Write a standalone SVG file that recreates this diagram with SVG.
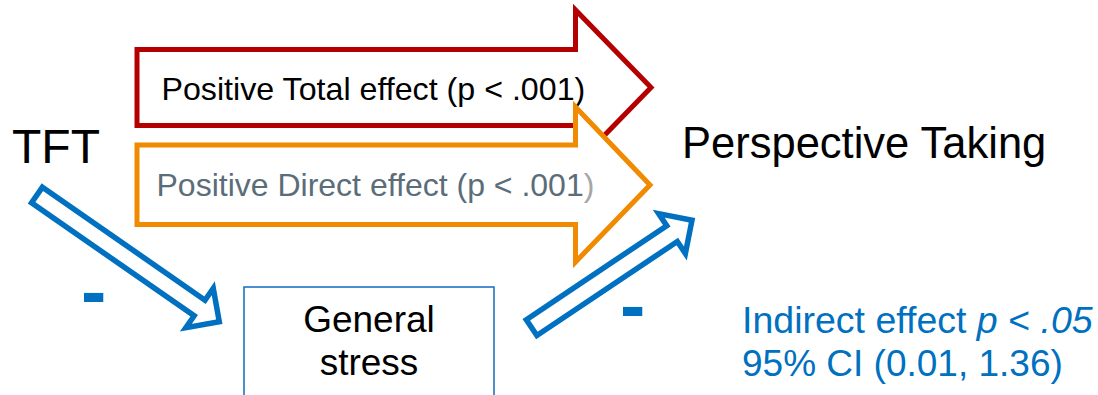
<svg xmlns="http://www.w3.org/2000/svg" width="1098" height="395" viewBox="0 0 1098 395">
  <defs>
    <style>
      text { font-family: "Liberation Sans", Arial, sans-serif; }
      .block-arrow { fill: #ffffff; stroke-width: 5; stroke-linejoin: miter; stroke-miterlimit: 10; }
      .total { stroke: #b40000; }
      .direct { stroke: #f08a00; }
      .mediation { stroke: #0070c0; stroke-width: 5.5; }
      .node-label { fill: #000000; }
      .blue { fill: #0070c0; }
      .sign { font-weight: bold; font-size: 76px; fill: #0070c0; }
    </style>
  </defs>

  <rect width="1098" height="395" fill="#ffffff"/>

  <!-- Variables -->
  <g id="node-tft">
    <text class="node-label" x="12" y="163" font-size="48">TFT</text>
  </g>

  <g id="node-perspective-taking">
    <text class="node-label" x="682" y="158" font-size="43.5">Perspective Taking</text>
  </g>

  <g id="node-general-stress">
    <rect x="244" y="287" width="250" height="120" fill="#ffffff" stroke="#1f74c4" stroke-width="1.6"/>
    <text class="node-label" x="369" y="332" font-size="37" text-anchor="middle">General</text>
    <text class="node-label" x="369" y="375" font-size="37" text-anchor="middle">stress</text>
  </g>

  <!-- Effect paths -->
  <g id="connectors">
    <!-- total effect: TFT -> Perspective Taking -->
    <g id="edge-total">
      <path class="block-arrow total" d="M137,49.5 H575.5 V10 L651,87.5 L575.5,165 V125.5 H137 Z"/>
      <text x="161.5" y="100" font-size="32.2" fill="#000000">Positive Total effect (p &lt; .001)</text>
    </g>

    <!-- direct effect: TFT -> Perspective Taking -->
    <g id="edge-direct">
      <path class="block-arrow direct" d="M137,145 H575.5 V107 L650,185 L575.5,262 V224.5 H137 Z"/>
      <text x="156.5" y="196" font-size="32" fill="#5b6d79">Positive Direct effect (p &lt; .001<tspan fill="#a6a6a6">)</tspan></text>
    </g>

    <!-- a path: TFT -> General stress -->
    <g id="edge-a">
      <path class="block-arrow mediation" transform="translate(37,195) rotate(34.8)" d="M0,-9.5 H198 V-24 L222,0 L198,24 V9.5 H0 Z"/>
      <text class="sign" x="81" y="317">-</text>
    </g>

    <!-- b path: General stress -> Perspective Taking -->
    <g id="edge-b">
      <path class="block-arrow mediation" transform="translate(531.6,327.6) rotate(-33.8)" d="M0,-9.5 H169 V-24 L193,0 L169,24 V9.5 H0 Z"/>
      <text class="sign" x="620" y="331">-</text>
    </g>
  </g>

  <!-- Indirect effect summary -->
  <g id="indirect-effect">
    <text class="blue" x="742" y="333" font-size="37.5">Indirect effect <tspan font-style="italic">p</tspan> &lt; <tspan font-style="italic">.05</tspan></text>
    <text class="blue" x="742" y="376" font-size="37">95% CI (0.01, 1.36)</text>
  </g>
</svg>
